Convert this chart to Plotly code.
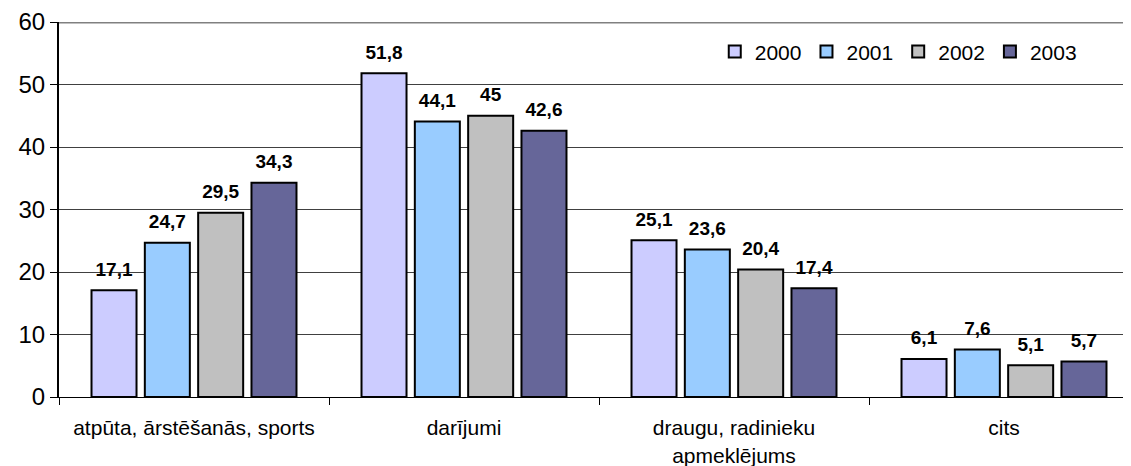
import plotly.graph_objects as go

categories = ["atpūta, ārstēšanās, sports", "darījumi", "draugu, radinieku<br>apmeklējums", "cits"]
years = ["2000", "2001", "2002", "2003"]
values = {
    "2000": [17.1, 51.8, 25.1, 6.1],
    "2001": [24.7, 44.1, 23.6, 7.6],
    "2002": [29.5, 45.0, 20.4, 5.1],
    "2003": [34.3, 42.6, 17.4, 5.7],
}
colors = {"2000": "#CCCCFF", "2001": "#99CCFF", "2002": "#C0C0C0", "2003": "#666699"}


def fmt(v):
    return ("%g" % v).replace(".", ",")


fig = go.Figure()
for y in years:
    fig.add_trace(go.Bar(
        name=y, x=categories, y=values[y], offsetgroup=y,
        marker=dict(color=colors[y], line=dict(color="black", width=2)),
    ))
for y in years:
    fig.add_trace(go.Scatter(
        x=categories, y=values[y], offsetgroup=y, mode="markers+text",
        marker=dict(size=14, opacity=0), showlegend=False, hoverinfo="skip",
        text=[fmt(v) for v in values[y]], textposition="top center",
        textfont=dict(family="Liberation Sans, Arial", size=19, color="black", weight="bold"),
        cliponaxis=False,
    ))

fig.update_layout(
    width=1131, height=466,
    margin=dict(l=51, r=0, t=14, b=77),
    paper_bgcolor="white", plot_bgcolor="white",
    barmode="group", bargap=0.21, bargroupgap=0.156,
    scattermode="group", scattergap=0.21,
    font=dict(family="Liberation Sans, Arial", color="black"),
    legend=dict(orientation="h", x=0.947, xanchor="right", y=0.975, yanchor="top",
                font=dict(size=21), itemwidth=30, tracegroupgap=0,
                bgcolor="rgba(0,0,0,0)"),
    showlegend=True,
)
fig.update_xaxes(
    type="category", range=[-0.5, 3.5], tickson="boundaries",
    ticks="outside", ticklen=7, tickcolor="black", showline=True, linecolor="black", linewidth=1,
    tickfont=dict(size=21), showgrid=False, ticklabelstandoff=12,
)
fig.update_yaxes(
    range=[0, 60], dtick=10, ticks="outside", ticklen=7, tickcolor="black",
    showline=True, linecolor="black", linewidth=2, tickfont=dict(size=24),
    gridcolor="#404040", gridwidth=1, zeroline=False,
)
fig.add_shape(type="line", xref="paper", yref="y", x0=0, x1=1, y0=60, y1=60,
              line=dict(color="#808080", width=3))
fig.write_html("out.html")
